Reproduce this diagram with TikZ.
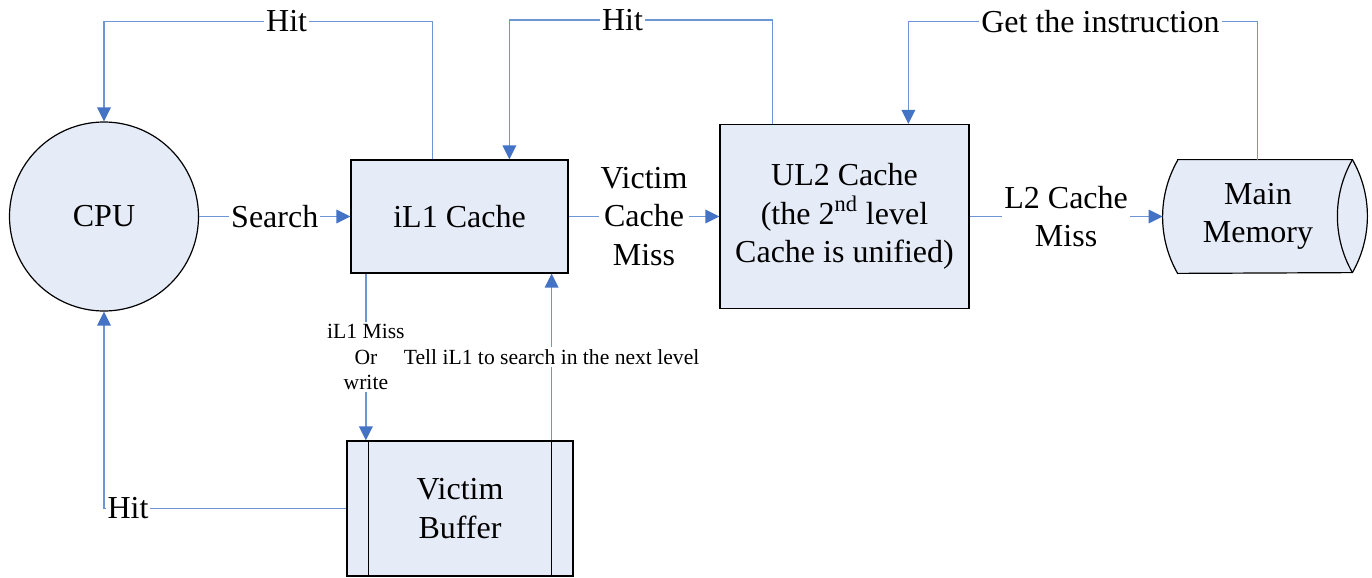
\documentclass[tikz,border=0pt]{standalone}
\usepackage{fontspec}
\setmainfont{Liberation Serif}
\usetikzlibrary{arrows.meta}
\definecolor{boxfill}{RGB}{230,236,247}
\definecolor{wire}{RGB}{110,150,212}
\definecolor{tipblue}{RGB}{68,114,196}
\newcommand\lblbig{\fontsize{16}{19.25}\selectfont}
\newcommand\lblsmall{\fontsize{10.8}{12.75}\selectfont}
\tikzset{
  unitbox/.style={draw=black, line width=0.6pt, fill=boxfill, rectangle,
    inner sep=0pt, align=center, font=\lblbig},
  link/.style={draw=wire, line width=0.7pt,
    -{Triangle[length=7pt,width=6.8pt,fill=tipblue,color=tipblue]}},
  lbl/.style={fill=white, inner sep=1pt, font=\lblbig, align=center},
  smalllbl/.style={fill=white, inner sep=1pt, font=\lblsmall, align=center},
  endarc/.style={radius=56.95pt},
}
\begin{document}
\begin{tikzpicture}[x=0.5pt,y=-0.5pt]
\useasboundingbox (0,0) rectangle (1372,578);

% units
\node[unitbox, circle, minimum size=94.5pt] (cpu) at (104,216.5) {CPU};
\node[unitbox, minimum width=108.5pt, minimum height=56.5pt] (il1) at (459.5,216.5) {iL1 Cache};
\node[unitbox, minimum width=124.5pt, minimum height=92pt] (ul2) at (844.5,216.5)
  {UL2 Cache\\(the 2\textsuperscript{nd} level\\Cache is unified)};
\node[unitbox, minimum width=113pt, minimum height=67.5pt] (vb) at (460,508.5) {Victim\\Buffer};
\draw[line width=0.6pt] ([xshift=11pt]vb.north west) -- ([xshift=11pt]vb.south west);
\draw[line width=0.6pt] ([xshift=-11pt]vb.north east) -- ([xshift=-11pt]vb.south east);

% main memory drawn as a drum lying on its side
\node[rectangle, inner sep=0pt, minimum width=102pt, minimum height=56.5pt] (mm) at (1265,216.5) {};
\path[draw=black, line width=0.6pt, fill=boxfill]
  ([xshift=7.5pt]mm.north west) -- ([xshift=-7.5pt]mm.north east)
  arc[endarc, start angle=29.74, end angle=-29.74]
  -- ([xshift=7.5pt]mm.south west)
  arc[endarc, start angle=209.74, end angle=150.26] -- cycle;
\draw[line width=0.6pt] ([xshift=-7.5pt]mm.north east)
  arc[endarc, start angle=150.26, end angle=209.74];
\node[align=center, font=\lblbig, inner sep=0pt] (mmtext) at ([xshift=-3.5pt]mm.center) {Main\\Memory};

% connectors
\draw[link] (cpu.east) -- node[lbl]{Search} (il1.west);
\draw[link] ([xshift=41pt]il1.north west) -- ++(0,-138)
  -| node[lbl, pos=0.222]{Hit} (cpu.north);
\draw[link] (il1.east) -- node[lbl]{Victim\\Cache\\Miss} (ul2.west);
\draw[link] ([xshift=26.5pt]ul2.north west) -- ++(0,-104)
  -| node[lbl, pos=0.285]{Hit} ([xshift=79.5pt]il1.north west);
\draw[link] (ul2.east) -- node[lbl]{L2 Cache\\Miss} (mm.west);
\draw[link] ([xshift=47.5pt]mm.north west) -- ++(0,-138)
  -| node[lbl, pos=0.225]{Get the instruction} ([xshift=94.5pt]ul2.north west);
\draw[link] ([xshift=7.75pt]il1.south west)
  -- node[smalllbl]{iL1 Miss\\Or\\write} ([xshift=7.75pt]il1.south west |- vb.north);
\draw[link] ([xshift=-11pt]vb.north east)
  -- node[smalllbl]{Tell iL1 to search in the next level} ([xshift=-11pt]vb.north east |- il1.south);
\draw[link] (vb.west) -| node[lbl, pos=0.5, anchor=west, xshift=0.4pt]{Hit} (cpu.south);
\end{tikzpicture}
\end{document}
